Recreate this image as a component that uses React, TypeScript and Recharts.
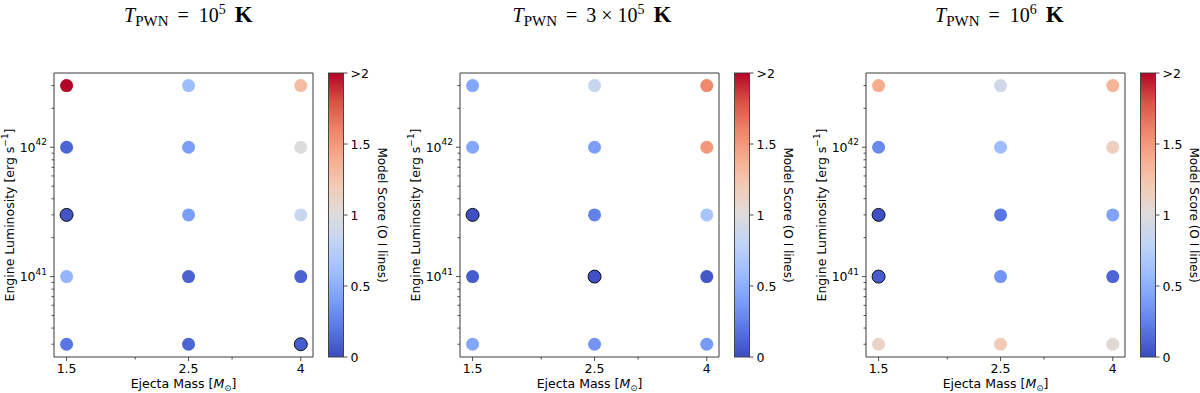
import React from 'react';
import { ScatterChart, Scatter, XAxis, YAxis, ReferenceArea } from 'recharts';

// ---------- data ----------
const masses = [1.5, 2.5, 4];
const luminosities = [3e42, 1e42, 3e41, 1e41, 3e40];

// rows follow luminosities (top to bottom), columns follow masses
const scoresT1e5 = [
  [2.0, 0.6, 1.3],
  [0.12, 0.4, 1.0],
  [0.04, 0.4, 0.85],
  [0.55, 0.1, 0.1],
  [0.2, 0.12, 0.08],
];
const scoresT3e5 = [
  [0.45, 0.85, 1.58],
  [0.45, 0.4, 1.5],
  [0.02, 0.25, 0.65],
  [0.08, 0.03, 0.05],
  [0.45, 0.35, 0.38],
];
const scoresT1e6 = [
  [1.4, 0.9, 1.35],
  [0.3, 0.6, 1.15],
  [0.02, 0.2, 0.42],
  [0.08, 0.35, 0.12],
  [1.12, 1.2, 1.05],
];
const bestT1e5 = [[1.5, 3e41], [4, 3e40]];
const bestT3e5 = [[1.5, 3e41], [2.5, 1e41]];
const bestT1e6 = [[1.5, 3e41], [1.5, 1e41]];

const xTicks = [1.5, 2, 2.5, 3, 4];
const xMajorTicks = [1.5, 2.5, 4];
const xTickLabels = ['1.5', '2.5', '4'];
const yTicks = [
  3e40, 4e40, 5e40, 6e40, 7e40, 8e40, 9e40,
  1e41, 2e41, 3e41, 4e41, 5e41, 6e41, 7e41, 8e41, 9e41,
  1e42, 2e42, 3e42,
];
const yMajorTicks = [1e41, 1e42];
const yMajorExponents = ['41', '42'];
const xDomain = [1.423, 4.21];
const yDomain = [2.39e40, 3.75e42];

const cbTicks = [0, 0.5, 1, 1.5, 2];
const cbTickLabels = ['0', '0.5', '1', '1.5', '>2'];
const cbMax = 2;

const coolwarm = [
  '#3b4cc0', '#5977e3', '#7b9ff9', '#9ebeff', '#c0d4f5', '#dddcdc',
  '#f2cbb7', '#f7ac8e', '#ee8468', '#d65244', '#b40426',
];

// ---------- helpers ----------
const hexToRgb = (h: string) => [
  parseInt(h.slice(1, 3), 16),
  parseInt(h.slice(3, 5), 16),
  parseInt(h.slice(5, 7), 16),
];
const colorFor = (v: number) => {
  const t = Math.max(0, Math.min(1, v / cbMax)) * (coolwarm.length - 1);
  const i = Math.min(coolwarm.length - 2, Math.floor(t));
  const f = t - i;
  const a = hexToRgb(coolwarm[i]);
  const b = hexToRgb(coolwarm[i + 1]);
  const c = a.map((x, k) => Math.round(x + (b[k] - x) * f));
  return `rgb(${c[0]},${c[1]},${c[2]})`;
};

const SANS = 'DejaVu Sans';
const FS = 12.5;
const AX = '#3a3a3a';

const buildData = (scores: number[][], best: number[][]) =>
  luminosities.flatMap((L, i) =>
    masses.map((m, j) => ({
      x: m,
      y: L,
      score: scores[i][j],
      best: best.some((b) => b[0] === m && b[1] === L),
    }))
  );

const XTick = (props: any) => {
  const { x, y, payload } = props;
  const v = payload.value;
  const idx = xMajorTicks.indexOf(v);
  const major = idx >= 0;
  return (
    <g>
      <line x1={x} x2={x} y1={y} y2={y + (major ? 4 : 2.5)} stroke={AX} strokeWidth={0.9} />
      {major && (
        <text x={x} y={y + 16} textAnchor="middle" fontFamily={SANS} fontSize={FS} fill="#000">
          {xTickLabels[idx]}
        </text>
      )}
    </g>
  );
};

const YTick = (props: any) => {
  const { x, y, payload } = props;
  const v = payload.value;
  const idx = yMajorTicks.findIndex((t) => Math.abs(t - v) / t < 1e-6);
  const major = idx >= 0;
  return (
    <g>
      <line x1={x} x2={x - (major ? 4 : 2.5)} y1={y} y2={y} stroke={AX} strokeWidth={0.9} />
      {major && (
        <text x={x - 7} y={y + 4.5} textAnchor="end" fontFamily={SANS} fontSize={FS} fill="#000">
          10
          <tspan fontSize={9} dy={-6.5}>{yMajorExponents[idx]}</tspan>
        </text>
      )}
    </g>
  );
};

const Dot = (props: any) => {
  const { cx, cy, payload } = props;
  if (cx == null || cy == null) return null;
  return (
    <circle
      cx={cx}
      cy={cy}
      r={6.5}
      fill={colorFor(payload.score)}
      stroke={payload.best ? '#000' : 'none'}
      strokeWidth={payload.best ? 0.9 : 0}
    />
  );
};

const Title = ({ kind, x }: { kind: string; x: number }) => (
  <text x={x} y={22} fontFamily="Liberation Serif" fontSize={20} fill="#000">
    <tspan fontStyle="italic">T</tspan>
    <tspan fontSize={15} dy={4}>PWN</tspan>
    <tspan dy={-4} dx={9}>=</tspan>
    {kind === '3e5' ? (
      <>
        <tspan dx={9}>3</tspan>
        <tspan dx={5}>×</tspan>
        <tspan dx={5}>10</tspan>
      </>
    ) : (
      <tspan dx={10}>10</tspan>
    )}
    <tspan fontSize={14} dy={-8}>{kind === 'e6' ? '6' : '5'}</tspan>
    <tspan dy={8} dx={9} fontWeight="bold" fontSize={23}>K</tspan>
  </text>
);

const PLOT = { left: 54, right: 313, top: 73, bottom: 357 };
const CB = { left: 328.5, width: 15 };

const Panel = ({
  ox,
  scores,
  best,
  kind,
  titleX,
}: {
  ox: number;
  scores: number[][];
  best: number[][];
  kind: string;
  titleX: number;
}) => {
  const data = buildData(scores, best);
  const gid = `cw-${kind}`;
  const h = PLOT.bottom - PLOT.top;
  const cbY = (v: number) => PLOT.bottom - (v / cbMax) * h;
  return (
    <div style={{ position: 'absolute', left: ox, top: 0, width: 406, height: 393 }}>
      <ScatterChart
        width={406}
        height={393}
        margin={{ top: PLOT.top, right: 406 - PLOT.right, bottom: 0, left: 0 }}
      >
        <XAxis
          type="number"
          dataKey="x"
          scale="log"
          domain={xDomain}
          allowDataOverflow
          ticks={xTicks}
          interval={0}
          height={36}
          axisLine={false}
          tickLine={false}
          tickSize={0}
          tickMargin={0}
          tick={<XTick />}
        />
        <YAxis
          type="number"
          dataKey="y"
          scale="log"
          domain={yDomain}
          allowDataOverflow
          ticks={yTicks}
          interval={0}
          width={54}
          axisLine={false}
          tickLine={false}
          tickSize={0}
          tickMargin={0}
          tick={<YTick />}
        />
        <Scatter data={data} isAnimationActive={false} shape={<Dot />} />
        <ReferenceArea
          x1={xDomain[0]}
          x2={xDomain[1]}
          y1={yDomain[0]}
          y2={yDomain[1]}
          fill="none"
          fillOpacity={0}
          stroke={AX}
          strokeWidth={1}
          ifOverflow="visible"
        />
      </ScatterChart>
      <svg
        width={406}
        height={393}
        style={{ position: 'absolute', left: 0, top: 0, pointerEvents: 'none', overflow: 'visible' }}
      >
        <defs>
          <linearGradient id={gid} x1="0" y1="1" x2="0" y2="0">
            {coolwarm.map((c, i) => (
              <stop key={i} offset={i / (coolwarm.length - 1)} stopColor={c} />
            ))}
          </linearGradient>
        </defs>
        <Title kind={kind} x={titleX} />
        <text
          x={(PLOT.left + PLOT.right) / 2}
          y={388}
          textAnchor="middle"
          fontFamily={SANS}
          fontSize={FS}
          fill="#000"
        >
          Ejecta Mass [<tspan fontStyle="italic">M</tspan>
          <tspan fontSize={8.5} dy={2.5}>⊙</tspan>
          <tspan dy={-2.5}>]</tspan>
        </text>
        <text
          transform={`translate(13.5, ${(PLOT.top + PLOT.bottom) / 2}) rotate(-90)`}
          textAnchor="middle"
          fontFamily={SANS}
          fontSize={FS}
          fill="#000"
        >
          Engine Luminosity [erg s<tspan fontSize={9} dy={-5.5}>−1</tspan>
          <tspan dy={5.5}>]</tspan>
        </text>
        <rect
          x={CB.left}
          y={PLOT.top}
          width={CB.width}
          height={h}
          fill={`url(#${gid})`}
          stroke={AX}
          strokeWidth={0.9}
        />
        {cbTicks.map((v, i) => (
          <g key={i}>
            <line
              x1={CB.left + CB.width}
              x2={CB.left + CB.width + 4}
              y1={cbY(v)}
              y2={cbY(v)}
              stroke={AX}
              strokeWidth={0.9}
            />
            <text
              x={CB.left + CB.width + 7}
              y={cbY(v) + 4.5}
              fontFamily={SANS}
              fontSize={FS}
              fill="#000"
            >
              {cbTickLabels[i]}
            </text>
          </g>
        ))}
        <text
          transform={`translate(377.5, ${(PLOT.top + PLOT.bottom) / 2}) rotate(90)`}
          textAnchor="middle"
          fontFamily={SANS}
          fontSize={12}
          fill="#000"
        >
          Model Score (O I lines)
        </text>
      </svg>
    </div>
  );
}

export default function App() {
  return (
    <div
      style={{
        position: 'absolute',
        left: 0,
        top: 0,
        width: 1200,
        height: 393,
        background: '#fff',
        overflow: 'hidden',
      }}
    >
      <Panel ox={0} scores={scoresT1e5} best={bestT1e5} kind="e5" titleX={124} />
      <Panel ox={406} scores={scoresT3e5} best={bestT3e5} kind="3e5" titleX={106.5} />
      <Panel ox={812} scores={scoresT1e6} best={bestT1e6} kind="e6" titleX={123} />
    </div>
  );
}
